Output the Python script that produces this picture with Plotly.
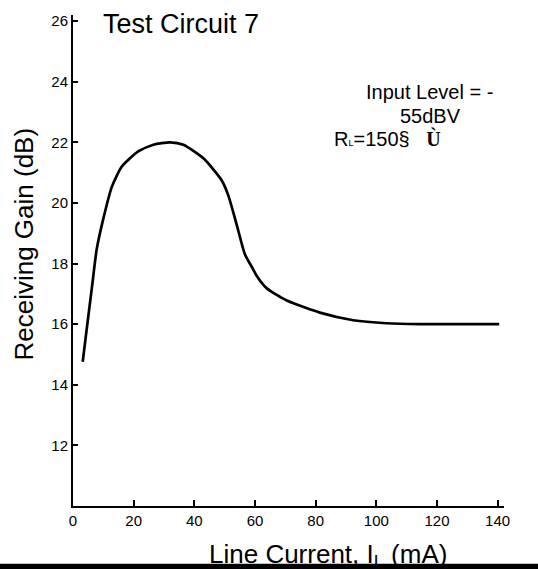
import plotly.graph_objects as go

# ---- data ----
line_current_mA = [3.2, 4.5, 6.2, 7.8, 10.0, 12.8, 16.1, 21.5, 26.5, 32.0, 36.4,
                   43.0, 49.0, 51.2, 54.0, 56.7, 59.4, 60.6, 63.9, 70.5, 81.4,
                   92.4, 103.4, 114.4, 125.4, 140.5]
receiving_gain_dB = [14.76, 15.82, 17.18, 18.46, 19.48, 20.53, 21.2, 21.7, 21.92, 22.0, 21.92,
                     21.47, 20.75, 20.25, 19.27, 18.30, 17.81, 17.59, 17.18, 16.78, 16.38,
                     16.13, 16.03, 16.0, 16.0, 16.0]
x_tick_vals = [0, 20, 40, 60, 80, 100, 120, 140]
y_tick_vals = [12, 14, 16, 18, 20, 22, 24, 26]

title_text = "Test Circuit 7"
x_title = "Line Current, I<sub>L</sub> (mA)"
y_title = "Receiving Gain (dB)"
note_line1 = "Input Level = -"
note_line2 = "55dBV"
note_line3 = ("R<span style=\"font-size:9px\">L</span>=150§   "
              "<span style=\"font-family:'Liberation Serif';font-weight:bold\">Ù</span>")

FONT = "Arial, Liberation Sans, sans-serif"
W, H = 538, 569
L, R, T, B = 73, 34, 13, 63
PW, PH = W - L - R, H - T - B


def px(xp):
    return (xp - L) / PW


def py(yp):
    return (H - B - yp) / PH


fig = go.Figure()
fig.add_trace(go.Scatter(
    x=line_current_mA, y=receiving_gain_dB, mode="lines",
    line=dict(color="black", width=2.7, shape="spline", smoothing=0.6),
    showlegend=False, hoverinfo="skip",
))

axis_common = dict(
    showgrid=False, zeroline=False, showline=True, linecolor="black", linewidth=2,
    ticks="inside", tickcolor="black", tickwidth=2,
    tickfont=dict(family=FONT, size=15, color="black"),
)

fig.update_layout(
    width=W, height=H,
    margin=dict(l=L, r=R, t=T, b=B, pad=0),
    paper_bgcolor="white", plot_bgcolor="white",
    font=dict(family=FONT, color="black"),
    xaxis=dict(range=[0, 142.1], tickvals=x_tick_vals, ticklen=6, **axis_common),
    yaxis=dict(range=[10, 26.2], tickvals=y_tick_vals, ticklen=5, **axis_common),
    annotations=[
        dict(text=title_text, xref="paper", yref="paper", x=px(101), y=py(22.5),
             xanchor="left", yanchor="middle", showarrow=False,
             font=dict(family=FONT, size=27, color="black")),
        dict(text=note_line1, xref="paper", yref="paper", x=px(429.5), y=py(90),
             xanchor="center", yanchor="middle", showarrow=False,
             font=dict(family=FONT, size=20, color="black")),
        dict(text=note_line2, xref="paper", yref="paper", x=px(430), y=py(114.5),
             xanchor="center", yanchor="middle", showarrow=False,
             font=dict(family=FONT, size=20, color="black")),
        dict(text=note_line3, xref="paper", yref="paper", x=px(332), y=py(137),
             xanchor="left", yanchor="middle", showarrow=False,
             font=dict(family=FONT, size=20, color="black")),
        dict(text=y_title, xref="paper", yref="paper", x=px(24), y=py(243.5),
             xanchor="center", yanchor="middle", textangle=-90, showarrow=False,
             font=dict(family=FONT, size=26, color="black")),
        dict(text=x_title, xref="paper", yref="paper", x=px(328), y=py(556),
             xanchor="center", yanchor="middle", showarrow=False,
             font=dict(family=FONT, size=26, color="black")),
    ],
    shapes=[
        # black band along the bottom edge
        dict(type="rect", xref="paper", yref="paper", layer="above",
             x0=px(-5), x1=px(W + 5), y0=py(564), y1=py(H + 5),
             fillcolor="black", line=dict(width=0)),
    ],
)

fig.write_html(
    "out.html",
    config={"displayModeBar": False},
    post_script="document.body.style.margin='0';document.body.style.overflow='hidden';",
)
